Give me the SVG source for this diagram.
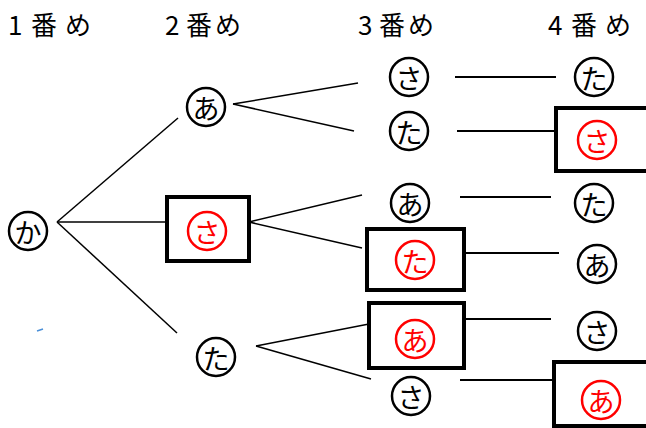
<svg xmlns="http://www.w3.org/2000/svg" width="646" height="428" viewBox="0 0 646 428">
<style>
.hdr{font-family:"Noto Sans CJK JP","Noto Sans",sans-serif;font-size:26px;fill:#000}
.c{fill:#fff;stroke:#000;stroke-width:2.5}
.cr{fill:#fff;stroke:#f00;stroke-width:2.5}
.t{font-family:"Noto Sans CJK JP",sans-serif;font-size:27px;fill:#000;text-anchor:middle;dominant-baseline:central}
.tr{font-family:"Noto Sans CJK JP",sans-serif;font-size:27px;fill:#f00;text-anchor:middle;dominant-baseline:central}
.box{fill:#fff;stroke:#000;stroke-width:4}
.ln{stroke:#000;stroke-width:1.5;fill:none}
.lh{stroke:#000;stroke-width:2;fill:none}
</style>
<rect width="646" height="428" fill="#fff"/>
<g id="headers">
<text class="hdr" y="35"><tspan x="8">1</tspan><tspan x="31">番</tspan><tspan x="65">め</tspan></text>
<text class="hdr" y="35"><tspan x="165">2</tspan><tspan x="186">番</tspan><tspan x="215">め</tspan></text>
<text class="hdr" y="35"><tspan x="358">3</tspan><tspan x="379">番</tspan><tspan x="408">め</tspan></text>
<text class="hdr" y="35"><tspan x="548">4</tspan><tspan x="571">番</tspan><tspan x="605">め</tspan></text>
</g>
<g id="connectors">
<line class="ln" x1="57" y1="222" x2="178" y2="118"/>
<line class="ln" x1="57" y1="222" x2="169" y2="222"/>
<line class="ln" x1="57" y1="222" x2="177" y2="333"/>
<line class="ln" x1="233" y1="104" x2="358" y2="83"/>
<line class="ln" x1="233" y1="104" x2="354" y2="131"/>
<line class="ln" x1="249" y1="222" x2="362" y2="195"/>
<line class="ln" x1="249" y1="222" x2="362" y2="248"/>
<line class="ln" x1="256" y1="346" x2="369" y2="324"/>
<line class="ln" x1="256" y1="346" x2="371" y2="379"/>
<line class="lh" x1="455" y1="77" x2="556" y2="77"/>
<line class="lh" x1="457" y1="131" x2="556" y2="131"/>
<line class="lh" x1="460" y1="197" x2="551" y2="197"/>
<line class="lh" x1="460" y1="253" x2="559" y2="253"/>
<line class="lh" x1="462" y1="319" x2="551" y2="319"/>
<line class="lh" x1="460" y1="380" x2="553" y2="380"/>
</g>
<g id="n1-ka"><circle class="c" cx="28" cy="231" r="19"/><text class="t" x="28" y="231">か</text></g>
<g id="n2-a"><circle class="c" cx="206" cy="107" r="19"/><text class="t" x="206" y="107">あ</text></g>
<g id="n2-sa"><rect class="box" x="167" y="197" width="82" height="64"/><circle class="cr" cx="207" cy="231" r="19"/><text class="tr" x="207" y="231">さ</text></g>
<g id="n2-ta"><circle class="c" cx="216" cy="357" r="19"/><text class="t" x="216" y="357">た</text></g>
<g id="n3-sa"><circle class="c" cx="409" cy="77" r="19"/><text class="t" x="409" y="77">さ</text></g>
<g id="n3-ta"><circle class="c" cx="409" cy="131" r="19"/><text class="t" x="409" y="131">た</text></g>
<g id="n3-a"><circle class="c" cx="410" cy="203" r="19"/><text class="t" x="410" y="203">あ</text></g>
<g id="n3-ta-box"><rect class="box" x="367" y="229" width="97" height="61"/><circle class="cr" cx="415" cy="260" r="19"/><text class="tr" x="415" y="260">た</text></g>
<g id="n3-a-box"><rect class="box" x="369" y="303" width="95" height="65"/><circle class="cr" cx="415" cy="339" r="19"/><text class="tr" x="415" y="339">あ</text></g>
<g id="n3-sa2"><circle class="c" cx="411" cy="396" r="19"/><text class="t" x="411" y="396">さ</text></g>
<g id="n4-ta"><circle class="c" cx="594" cy="77" r="19"/><text class="t" x="594" y="77">た</text></g>
<g id="n4-sa-box"><rect class="box" x="556" y="108" width="100" height="63"/><circle class="cr" cx="597" cy="140" r="19"/><text class="tr" x="597" y="140">さ</text></g>
<g id="n4-ta2"><circle class="c" cx="594" cy="203" r="19"/><text class="t" x="594" y="203">た</text></g>
<g id="n4-a"><circle class="c" cx="597" cy="264" r="19"/><text class="t" x="597" y="264">あ</text></g>
<g id="n4-sa"><circle class="c" cx="597" cy="331" r="19"/><text class="t" x="597" y="331">さ</text></g>
<g id="n4-a-box"><rect class="box" x="554" y="362" width="100" height="64"/><circle class="cr" cx="601" cy="400" r="19"/><text class="tr" x="601" y="400">あ</text></g>
<line x1="37" y1="331" x2="43" y2="329" stroke="#4a8fd8" stroke-width="1.5"/>
</svg>
